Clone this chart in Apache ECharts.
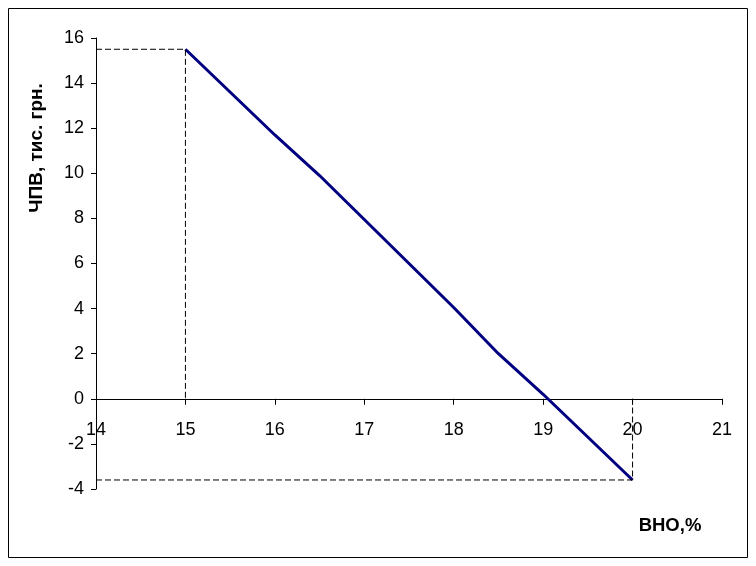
<!DOCTYPE html>
<html><head><meta charset="utf-8">
<script src="https://cdn.jsdelivr.net/npm/echarts@6/dist/echarts.min.js"></script>
<style>html,body{margin:0;padding:0;background:#fff}#c{width:756px;height:566px}</style>
</head><body><div id="c"></div>
<script>
var xTicks = [14, 15, 16, 17, 18, 19, 20, 21];
var yTicks = [-4, -2, 0, 2, 4, 6, 8, 10, 12, 14, 16];
var npvX = [15, 16, 16.5, 17, 18, 18.5, 19, 20];
var npvY = [15.5, 11.7, 9.9, 7.95, 4.05, 2.0, 0.2, -3.6];
var guideTop = [[14, 15.5], [15, 15.5], [15, 0]];
var guideBottom = [[14, -3.6], [20, -3.6], [20, 0]];
var xName = 'ВНО,%';
var yName = 'ЧПВ, тис. грн.';

var chart = echarts.init(document.getElementById('c'));
var font = 'Liberation Sans, Arial, sans-serif';
chart.setOption({
  animation: false,
  grid: {left: 96, right: 34, top: 38, bottom: 77},
  xAxis: {
    type: 'value', min: xTicks[0], max: xTicks[xTicks.length - 1], interval: 1,
    axisLine: {onZero: true, lineStyle: {color: '#000', width: 1}},
    axisTick: {show: true, length: 6, lineStyle: {color: '#000'}},
    axisLabel: {color: '#000', fontFamily: font, fontSize: 18, margin: -68},
    splitLine: {show: false}
  },
  yAxis: {
    type: 'value', min: yTicks[0], max: yTicks[yTicks.length - 1], interval: 2,
    axisLine: {show: true, onZero: false, lineStyle: {color: '#000', width: 1}},
    axisTick: {show: true, length: 5, lineStyle: {color: '#000'}},
    axisLabel: {color: '#000', fontFamily: font, fontSize: 18, margin: 12},
    splitLine: {show: false}
  },
  series: [
    {type: 'line', data: npvX.map(function (x, i) { return [x, npvY[i]]; }),
     symbol: 'none', lineStyle: {color: '#000080', width: 3}},
    {type: 'line', data: guideTop, symbol: 'none',
     lineStyle: {color: '#000', width: 1, type: [6, 3]}},
    {type: 'line', data: guideBottom, symbol: 'none',
     lineStyle: {color: '#000', width: 1, type: [6, 3]}}
  ],
  graphic: [
    {type: 'rect', shape: {x: 8.5, y: 8.5, width: 739, height: 549},
     style: {fill: 'none', stroke: '#000', lineWidth: 1}, silent: true},
    {type: 'text', x: 670, y: 526, style: {text: xName, fill: '#000', font: 'bold 18.5px ' + font, align: 'center', verticalAlign: 'middle'}},
    {type: 'text', x: 37, y: 148, rotation: Math.PI / 2, style: {text: yName, fill: '#000', font: 'bold 19px ' + font, align: 'center', verticalAlign: 'middle'}}
  ]
});
</script></body></html>
